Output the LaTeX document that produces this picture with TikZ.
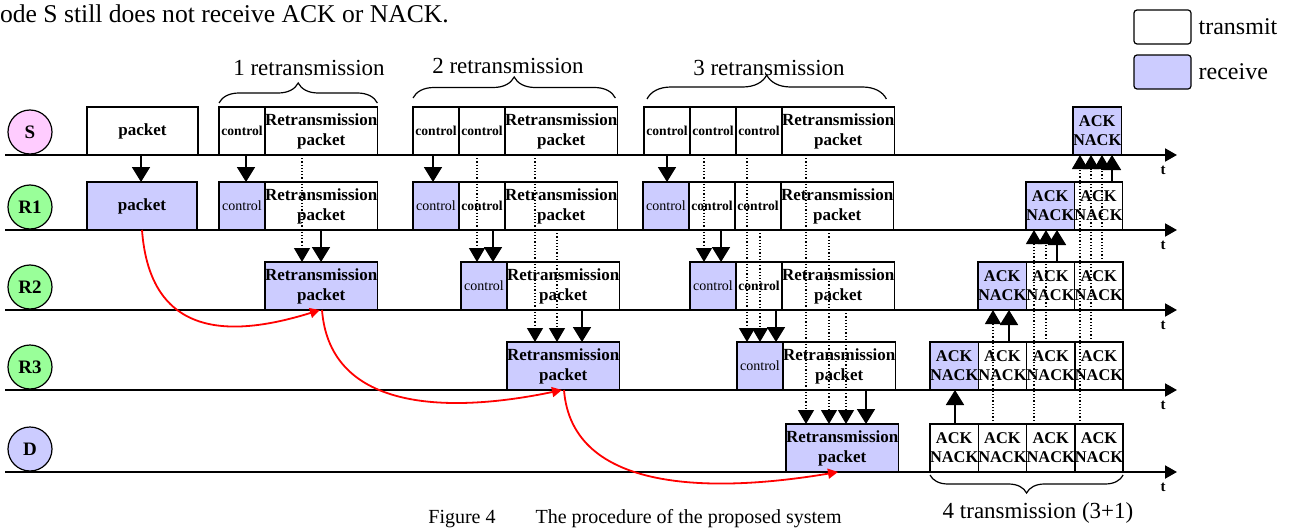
\documentclass[tikz,border=0pt]{standalone}
\usepackage{fontspec}
\setmainfont{Liberation Serif}
\usetikzlibrary{arrows.meta, positioning, decorations.pathreplacing}
\definecolor{rxfill}{RGB}{204,204,255}
\definecolor{sfill}{RGB}{255,204,255}
\definecolor{rfill}{RGB}{153,255,153}
\definecolor{curvered}{RGB}{255,0,0}
\tikzset{
  box/.style={rectangle, draw=black, line width=0.75pt, inner sep=0pt, outer sep=0pt,
    minimum height=24pt, align=center, anchor=south west,
    font=\bfseries\fontsize{8.5}{10}\selectfont},
  tx/.style={box, fill=white},
  rx/.style={box, fill=rxfill},
  ctl/.style={minimum width=23pt, font=\bfseries\fontsize{6.8}{8}\selectfont},
  rxctl/.style={minimum width=23pt, font=\fontsize{7}{8}\selectfont},
  rtx/.style={minimum width=55.5pt},
  ack/.style={minimum width=24pt, font=\bfseries\fontsize{8.2}{9.5}\selectfont},
  station/.style={circle, draw=black, line width=0.6pt, minimum size=22pt,
    inner sep=0pt, font=\bfseries\fontsize{9.5}{10}\selectfont},
  timeline/.style={line width=1pt, -{Triangle[length=6pt,width=6.5pt]}},
  tlab/.style={font=\bfseries\fontsize{7.5}{8}\selectfont, inner sep=0pt},
  sarr/.style={line width=0.9pt, -{Triangle[length=7.5pt,width=9pt]}},
  darr/.style={line width=0.6pt, densely dotted, -{Triangle[length=7pt,width=8pt]}},
  redarr/.style={curvered, line width=0.9pt, -{Triangle[length=5pt,width=5pt]}},
  brc/.style={decorate, decoration={brace, amplitude=#1}, line width=0.6pt},
  lbl/.style={font=\fontsize{11.5}{13}\selectfont, inner sep=0pt},
  legbox/.style={rectangle, draw=black, line width=0.6pt, rounded corners=1.5pt,
    minimum width=28.5pt, minimum height=17pt, inner sep=0pt}
}
\begin{document}
\begin{tikzpicture}[x=0.5pt, y=-0.5pt]
  \clip (0,0) rectangle (1292,530);

  % stations and time axes
  \foreach \n/\y/\c in {S/155/sfill, R1/230/rfill, R2/310/rfill, R3/390/rfill, D/472/rxfill} {
    \node[station, fill=\c] (\n) at (30,\y-23) {\n};
    \draw[timeline] (5,\y) -- (1177,\y);
    \node[tlab] (t-\n) at (1163,\y+15) {t};
  }

  % row S
  \node[tx, minimum width=55.5pt] (S-pk) at (87,155) {packet};
  \node[tx, ctl] (S-c1) at (219,155) {control};
  \node[tx, rtx, right=0pt of S-c1] (S-rt1) {Retransmission\\packet};
  \node[tx, ctl] (S-c2a) at (413,155) {control};
  \node[tx, ctl, right=0pt of S-c2a] (S-c2b) {control};
  \node[tx, rtx, right=0pt of S-c2b] (S-rt2) {Retransmission\\packet};
  \node[tx, ctl] (S-c3a) at (644,155) {control};
  \node[tx, ctl, right=0pt of S-c3a] (S-c3b) {control};
  \node[tx, ctl, right=0pt of S-c3b] (S-c3c) {control};
  \node[tx, rtx, right=0pt of S-c3c] (S-rt3) {Retransmission\\packet};
  \node[rx, ack] (S-ack) at (1073,155) {ACK\\NACK};

  % row R1
  \node[rx, minimum width=55pt] (R1-pk) at (87,230) {packet};
  \node[rx, rxctl] (R1-c1) at (219,230) {control};
  \node[tx, rtx, right=0pt of R1-c1] (R1-rt1) {Retransmission\\packet};
  \node[rx, rxctl] (R1-c2a) at (413,230) {control};
  \node[tx, ctl, right=0pt of R1-c2a] (R1-c2b) {control};
  \node[tx, rtx, right=0pt of R1-c2b] (R1-rt2) {Retransmission\\packet};
  \node[rx, rxctl] (R1-c3a) at (643,230) {control};
  \node[tx, ctl, right=0pt of R1-c3a] (R1-c3b) {control};
  \node[tx, ctl, right=0pt of R1-c3b] (R1-c3c) {control};
  \node[tx, rtx, right=0pt of R1-c3c] (R1-rt3) {Retransmission\\packet};
  \node[rx, ack] (R1-a1) at (1026,230) {ACK\\NACK};
  \node[tx, ack, right=0pt of R1-a1] (R1-a2) {ACK\\NACK};

  % row R2
  \node[rx, rtx] (R2-rt1) at (265,310) {Retransmission\\packet};
  \node[rx, rxctl] (R2-c2) at (461,310) {control};
  \node[tx, rtx, right=0pt of R2-c2] (R2-rt2) {Retransmission\\packet};
  \node[rx, rxctl] (R2-c3a) at (690,310) {control};
  \node[tx, ctl, right=0pt of R2-c3a] (R2-c3b) {control};
  \node[tx, rtx, right=0pt of R2-c3b] (R2-rt3) {Retransmission\\packet};
  \node[rx, ack] (R2-a1) at (978,310) {ACK\\NACK};
  \node[tx, ack, right=0pt of R2-a1] (R2-a2) {ACK\\NACK};
  \node[tx, ack, right=0pt of R2-a2] (R2-a3) {ACK\\NACK};

  % row R3
  \node[rx, rtx] (R3-rt2) at (507,390) {Retransmission\\packet};
  \node[rx, rxctl] (R3-c3) at (737,390) {control};
  \node[tx, rtx, right=0pt of R3-c3] (R3-rt3) {Retransmission\\packet};
  \node[rx, ack] (R3-a1) at (930,390) {ACK\\NACK};
  \node[tx, ack, right=0pt of R3-a1] (R3-a2) {ACK\\NACK};
  \node[tx, ack, right=0pt of R3-a2] (R3-a3) {ACK\\NACK};
  \node[tx, ack, right=0pt of R3-a3] (R3-a4) {ACK\\NACK};

  % row D
  \node[rx, rtx] (D-rt3) at (786,472) {Retransmission\\packet};
  \node[tx, ack] (D-a1) at (930,472) {ACK\\NACK};
  \node[tx, ack, right=0pt of D-a1] (D-a2) {ACK\\NACK};
  \node[tx, ack, right=0pt of D-a2] (D-a3) {ACK\\NACK};
  \node[tx, ack, right=0pt of D-a3] (D-a4) {ACK\\NACK};

  % forwarding arrows (down)
  \foreach \x/\a/\b in {141/S-pk/R1-pk, 246/S-c1/R1-c1, 321/R1-rt1/R2-rt1,
      433/S-c2a/R1-c2a, 493/R1-c2b/R2-c2, 582/R2-rt2/R3-rt2,
      667/S-c3a/R1-c3a, 721/R1-c3b/R2-c3a, 776/R2-c3b/R3-c3, 866/R3-rt3/D-rt3}
    \draw[sarr] (\a.south -| \x,0) -- (\b.north -| \x,0);
  \foreach \x/\a/\b in {302/S-rt1/R2-rt1, 477/S-c2b/R2-c2, 535/S-rt2/R3-rt2,
      557/R1-rt2/R3-rt2, 704/S-c3b/R2-c3a, 747/S-c3c/R3-c3, 760/R1-c3c/R3-c3,
      806/S-rt3/D-rt3, 829/R1-rt3/D-rt3, 846/R2-rt3/D-rt3}
    \draw[darr] (\a.south -| \x,0) -- (\b.north -| \x,0);

  % ACK/NACK arrows (up)
  \foreach \x/\a/\b in {955/D-a1/R3-a1, 1009/R3-a2/R2-a1, 1057/R2-a2/R1-a1, 1112/R1-a2/S-ack}
    \draw[sarr] (\a.north -| \x,0) -- (\b.south -| \x,0);
  \foreach \x/\a/\b in {993/D-a2/R2-a1, 1034/D-a3/R1-a1, 1046/R3-a3/R1-a1,
      1080/D-a4/S-ack, 1091/R3-a4/S-ack, 1102/R2-a3/S-ack}
    \draw[darr] (\a.north -| \x,0) -- (\b.south -| \x,0);

  % red hand-over curves
  \draw[redarr] (R1-pk.south) .. controls +(8,108) and +(-90,28) .. (R2-rt1.south -| 320,0);
  \draw[redarr] (R2-rt1.south -| 322,0) .. controls +(8,103) and +(-110,23) .. (R3-rt2.south -| 562,0);
  \draw[redarr] (R3-rt2.south -| 564,0) .. controls +(8,103) and +(-125,21) .. (D-rt3.south -| 838,0);

  % braces and their labels
  \draw[brc=10pt] ([yshift=2pt]S-c1.north west) -- ([yshift=2pt]S-rt1.north east);
  \draw[brc=10.5pt] ([yshift=4.5pt]S-c2a.north west) -- ([xshift=-1pt,yshift=4.5pt]S-rt2.north east);
  \draw[brc=12pt] ([xshift=1.5pt,yshift=4pt]S-c3a.north west) -- ([xshift=-4pt,yshift=4pt]S-rt3.north east);
  \draw[brc=9pt] ([yshift=-1.5pt]D-a4.south east) -- ([yshift=-1.5pt]D-a1.south west);
  \node[lbl] (lb1) at (309,68) {1 retransmission};
  \node[lbl] (lb2) at (508,66) {2 retransmission};
  \node[lbl] (lb3) at (769,68) {3 retransmission};
  \node[lbl] (lb4) at (1038,513) {4 transmission (3+1)};

  % legend
  \node[legbox, fill=white] (lg-tx) at (1162.5,27) {};
  \node[legbox, fill=rxfill] (lg-rx) at (1162.5,72) {};
  \node[font=\fontsize{12}{14}\selectfont, right=0pt of lg-tx] (lt-tx) {transmit};
  \node[font=\fontsize{12}{14}\selectfont, right=0pt of lg-rx] (lt-rx) {receive};

  % surrounding text
  \node[anchor=west, font=\fontsize{12.8}{14}\selectfont] (note) at (-7,14) {ode S still does not receive ACK or NACK.};
  \node[anchor=base, font=\fontsize{10}{12}\selectfont] (cap) at (635,523) {Figure 4\hspace{2em}The procedure of the proposed system};
\end{tikzpicture}
\end{document}
